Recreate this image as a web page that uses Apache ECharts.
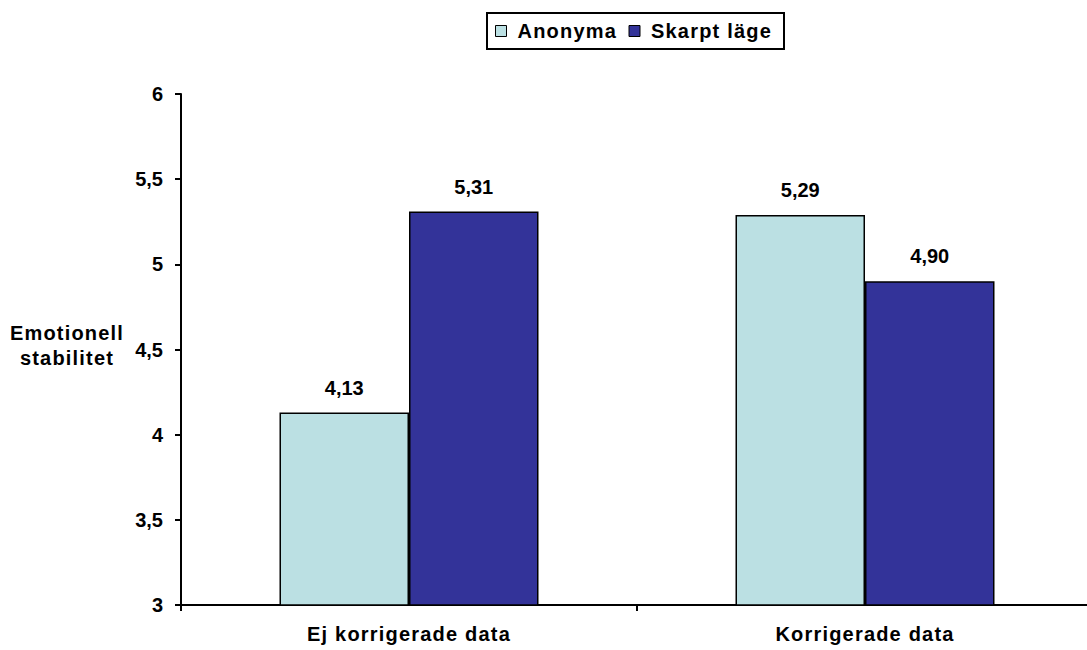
<!DOCTYPE html>
<html>
<head>
<meta charset="utf-8">
<script src="https://cdn.jsdelivr.net/npm/echarts@6/dist/echarts.min.js"></script>
<style>
html,body{margin:0;padding:0;background:#fff;overflow:hidden;}
/* the plot runs a few pixels past the right edge of the picture */
#chart{width:1093px;height:650px;}
</style>
</head>
<body>
<div id="chart"></div>
<script>
var categories = ['Ej korrigerade data', 'Korrigerade data'];
var anonyma = [4.13, 5.29];
var skarptLage = [5.31, 4.90];
var seriesNames = ['Anonyma', 'Skarpt läge'];
var yTicks = ['3', '3,5', '4', '4,5', '5', '5,5', '6'];

var font = '"Liberation Sans", Arial, sans-serif';

function fmt(p) {
    return p.value.toFixed(2).replace('.', ',');
}

var myChart = echarts.init(document.getElementById('chart'), null, {renderer: 'svg'});
var option = {
    backgroundColor: '#fff',
    animation: false,
    legend: {
        left: 487,
        top: 13,
        padding: [7, 16, 7, 8],
        itemGap: 11,
        itemWidth: 11,
        itemHeight: 11,
        icon: 'rect',
        borderColor: '#000',
        borderWidth: 2,
        itemStyle: {borderColor: '#000', borderWidth: 1},
        textStyle: {fontFamily: font, fontSize: 20, fontWeight: 'bold', color: '#000',
            lineHeight: 22, padding: [0, 0, 0, 6]},
        data: [
            {name: seriesNames[0], textStyle: {width: 100}},
            {name: seriesNames[1], textStyle: {width: 117}}
        ]
    },
    graphic: [{
        type: 'text',
        x: 67, y: 345,
        style: {
            text: 'Emotionell\nstabilitet',
            align: 'center',
            verticalAlign: 'middle',
            fontFamily: font,
            fontSize: 20,
            fontWeight: 'bold',
            lineHeight: 25,
            fill: '#000'
        }
    }],
    grid: {left: 181, right: 0, top: 94, bottom: 45},
    xAxis: {
        type: 'category',
        data: categories,
        axisLine: {lineStyle: {color: '#000', width: 2}},
        axisTick: {show: true, length: 6, lineStyle: {color: '#000', width: 2}},
        axisLabel: {fontFamily: font, fontSize: 20, fontWeight: 'bold', color: '#000', margin: 19}
    },
    yAxis: {
        type: 'value',
        min: 3,
        max: 6,
        interval: 0.5,
        axisLine: {show: true, lineStyle: {color: '#000', width: 2}},
        axisTick: {show: true, length: 6, lineStyle: {color: '#000', width: 2}},
        splitLine: {show: false},
        axisLabel: {
            fontFamily: font, fontSize: 20, fontWeight: 'bold', color: '#000', margin: 18,
            formatter: function (v) { return yTicks[Math.round((v - 3) * 2)]; }
        }
    },
    series: [{
        name: seriesNames[0],
        type: 'bar',
        data: anonyma,
        barGap: '0%',
        barCategoryGap: '43.2%',
        itemStyle: {color: '#BBE0E3', borderColor: '#000', borderWidth: 1.5},
        label: {show: true, position: 'top', distance: 15, formatter: fmt,
            fontFamily: font, fontSize: 20, fontWeight: 'bold', color: '#000'}
    }, {
        name: seriesNames[1],
        type: 'bar',
        data: skarptLage,
        itemStyle: {color: '#333399', borderColor: '#000', borderWidth: 1.5},
        label: {show: true, position: 'top', distance: 15, formatter: fmt,
            fontFamily: font, fontSize: 20, fontWeight: 'bold', color: '#000'}
    }]
};
myChart.setOption(option);

// the original's words are spaced out a bit; numbers are not
function spaceWords() {
    var texts = document.querySelectorAll('#chart text');
    for (var i = 0; i < texts.length; i++) {
        if (/[A-Za-zäö]/.test(texts[i].textContent)) {
            texts[i].style.letterSpacing = '1.2px';
        }
    }
}
myChart.on('finished', spaceWords);
setTimeout(spaceWords, 0);
</script>
</body>
</html>
